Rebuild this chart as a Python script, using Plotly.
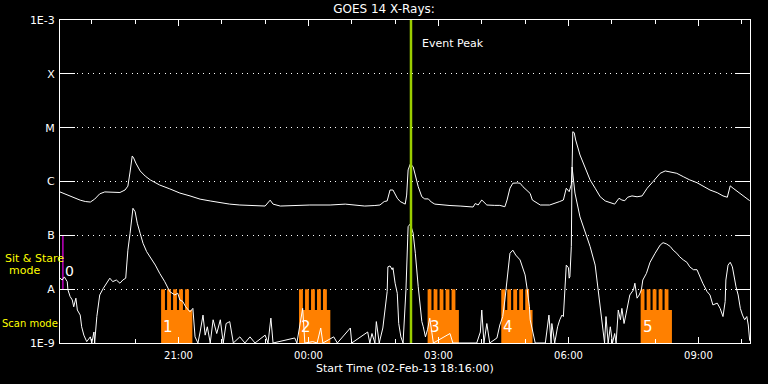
import math
import pandas as pd
import plotly.graph_objects as go

# ---------------- data ----------------
START = "2013-02-02 18:16:00"

# GOES long channel (1-8 A): minutes after start, flux (W/m^2)
long_min = [0, 14, 28, 35, 42, 48, 55, 62, 72, 83, 90, 94, 97, 100, 102, 105, 111, 118, 125, 138,
            152, 166, 180, 194, 208, 222, 235, 249, 270, 284, 291, 295, 305, 318, 332, 346, 360, 374,
            395, 408, 422, 436, 443, 449, 453, 457, 461, 467, 471, 478, 480, 482, 483, 485, 489, 492,
            496, 501, 505, 510, 514, 519, 533, 540, 554, 568, 572, 575, 579, 584, 591, 602, 609, 616,
            619, 623, 627, 633, 637, 641, 647, 651, 654, 665, 678, 685, 692, 697, 701, 705, 708, 709,
            710, 712, 714, 720, 727, 734, 741, 748, 755, 762, 768, 774, 778, 782, 786, 792, 799, 806,
            813, 821, 831, 838, 845, 854, 863, 872, 882, 890, 900, 910, 918, 924, 928, 932, 942, 948, 955]
long_flux = [6.4e-7, 5.3e-7, 4.5e-7, 4.25e-7, 4.15e-7, 4.7e-7, 5.9e-7, 6.4e-7, 6.4e-7, 6.25e-7,
             6.95e-7, 8.2e-7, 1.5e-6, 2.98e-6, 2.73e-6, 2.2e-6, 1.57e-6, 1.26e-6, 1.07e-6, 8.6e-7,
             7.3e-7, 6.1e-7, 5.4e-7, 4.7e-7, 4.35e-7, 4.0e-7, 3.8e-7, 3.66e-7, 3.58e-7, 3.5e-7,
             4.5e-7, 3.8e-7, 3.5e-7, 3.58e-7, 3.66e-7, 3.66e-7, 3.66e-7, 3.66e-7, 3.8e-7, 3.66e-7,
             3.5e-7, 3.58e-7, 3.66e-7, 4.25e-7, 4.35e-7, 6.95e-7, 6.95e-7, 4.9e-7, 4.25e-7, 3.8e-7,
             5.6e-7, 1.64e-6, 1.78e-6, 2.11e-6, 1.88e-6, 1.23e-6, 8.0e-7, 5.2e-7, 4.75e-7, 4.75e-7,
             4.16e-7, 3.8e-7, 3.58e-7, 3.58e-7, 3.5e-7, 3.36e-7, 3.36e-7, 3.9e-7, 3.66e-7, 4.53e-7,
             3.66e-7, 3.6e-7, 3.6e-7, 3.4e-7, 4.53e-7, 7.5e-7, 9.3e-7, 9.4e-7, 9.3e-7, 8.0e-7,
             6.7e-7, 6.0e-7, 4.53e-7, 3.66e-7, 3.66e-7, 3.9e-7, 4.25e-7, 4.53e-7, 7.5e-7, 6.47e-7,
             8.8e-7, 1.64e-6, 8.4e-6, 8.07e-6, 5.9e-6, 3.11e-6, 1.76e-6, 1.07e-6, 7.5e-7, 5.2e-7,
             4.35e-7, 4.04e-7, 3.8e-7, 4.88e-7, 4.53e-7, 4.4e-7, 5.1e-7, 5.4e-7, 5.2e-7, 5.4e-7,
             7.5e-7, 9.9e-7, 1.42e-6, 1.57e-6, 1.52e-6, 1.42e-6, 1.23e-6, 1.07e-6, 9.5e-7, 8.3e-7,
             6.95e-7, 6.2e-7, 5.4e-7, 5.1e-7, 8.3e-7, 7.5e-7, 6.0e-7, 5.1e-7, 4.4e-7]

# GOES short channel (0.5-4 A)
short_min = [0, 3, 6, 10, 11, 14, 17, 19, 22, 24, 28, 30, 33, 37, 42, 44, 47, 48, 51, 53, 55, 60, 64,
             69, 73, 78, 83, 87, 91, 94, 97, 101, 104, 107, 111, 115, 120, 125, 132, 138, 145, 152,
             159, 163, 166, 170, 174, 180, 184, 187, 191, 194, 198, 201, 204, 208, 212, 217, 222, 226,
             230, 235, 240, 249, 256, 263, 270, 284, 288, 292, 295, 325, 328, 336, 339, 350, 356, 361,
             364, 379, 384, 402, 404, 426, 429, 432, 436, 438, 442, 447, 450, 453, 454, 457, 460, 461,
             464, 467, 469, 472, 475, 479, 482, 485, 489, 492, 496, 501, 503, 506, 509, 512, 517, 540,
             544, 577, 582, 584, 587, 591, 595, 605, 609, 613, 616, 619, 622, 623, 627, 631, 637, 641,
             644, 647, 650, 651, 655, 658, 672, 677, 680, 681, 685, 689, 692, 695, 697, 699, 701, 704,
             705, 706, 708, 709, 713, 720, 727, 734, 741, 745, 748, 751, 754, 756, 759, 762, 765, 768,
             770, 773, 776, 778, 781, 784, 787, 789, 794, 796, 799, 802, 805, 807, 812, 814, 817, 824,
             831, 835, 840, 845, 849, 854, 858, 863, 868, 872, 877, 882, 886, 890, 896, 900, 904, 910,
             914, 918, 921, 922, 925, 928, 931, 934, 936, 939, 942, 945, 948, 951, 953, 955]
short_flux = [1.6e-8, 1.48e-8, 1.69e-8, 1.38e-8, 9.7e-9, 7.3e-9, 6.3e-9, 4.7e-9, 6.8e-9, 4.1e-9,
              3.3e-9, 2.0e-9, 1.4e-9, 1.06e-9, 1.3e-9, 1e-9, 1.6e-9, 1e-9, 3.1e-9, 4.7e-9, 7.8e-9,
              1.04e-8, 1.29e-8, 1.6e-8, 1.38e-8, 1.48e-8, 1.29e-8, 1.48e-8, 1.6e-8, 5.3e-8, 1.09e-7,
              3.18e-7, 2.75e-7, 1.68e-7, 1.09e-7, 7.1e-8, 4.97e-8, 4.0e-8, 2.8e-8, 1.97e-8, 1.38e-8,
              9.0e-9, 7.8e-9, 8.4e-9, 6.3e-9, 5.9e-9, 4.7e-9, 3.8e-9, 4.4e-9, 1.3e-9, 1e-9, 1.6e-9,
              3.3e-9, 1.4e-9, 2.0e-9, 1e-9, 2.7e-9, 1.5e-9, 2.7e-9, 1e-9, 2.3e-9, 2.5e-9, 1e-9,
              1.3e-9, 1e-9, 1.3e-9, 1e-9, 1.4e-9, 1e-9, 2.9e-9, 1e-9, 1.24e-9, 1e-9, 4.4e-9, 1e-9,
              1.06e-9, 1e-9, 1.9e-9, 1e-9, 1.3e-9, 1e-9, 1.9e-9, 1e-9, 1.6e-9, 1e-9, 1.5e-9, 1e-9,
              2.5e-9, 1e-9, 1.9e-9, 4.7e-9, 9.0e-9, 2.6e-8, 2.7e-8, 2.3e-8, 2.5e-8, 1.29e-8, 8.4e-9,
              2.3e-9, 1.3e-9, 1e-9, 9.7e-9, 1.45e-7, 1.63e-7, 1.09e-7, 4.65e-8, 1.11e-8, 2.5e-9,
              2.0e-9, 1.3e-9, 1.8e-9, 2.9e-9, 1e-9, 1.5e-9, 1e-9, 1e-9, 1.6e-9, 4.1e-9, 1e-9, 2.3e-9,
              1e-9, 1.24e-9, 2.16e-9, 3.1e-9, 6.3e-9, 1.48e-8, 3.16e-8, 4.65e-8, 5.3e-8, 4.3e-8,
              3.5e-8, 2.5e-8, 1.84e-8, 9.7e-9, 4.7e-9, 2.7e-9, 1.5e-9, 1e-9, 1e-9, 3.3e-9, 1e-9,
              2.3e-9, 1e-9, 2.0e-9, 2.7e-9, 3.3e-9, 3.1e-9, 1.11e-8, 2.8e-8, 2.5e-8, 1.6e-8, 1.7e-8,
              6.2e-8, 1.86e-6, 6.1e-7, 2.2e-7, 1.17e-7, 6.2e-8, 2.8e-8, 9.7e-9, 4.1e-9, 2.0e-9, 1e-9,
              3.1e-9, 1e-9, 2.0e-9, 1e-9, 1.5e-9, 1e-9, 4.1e-9, 2.7e-9, 4.4e-9, 2.3e-9, 3.6e-9,
              5.5e-9, 7.8e-9, 9.7e-9, 1.29e-8, 6.8e-9, 7.8e-9, 9.7e-9, 1.48e-8, 1.97e-8, 2.3e-8,
              3.16e-8, 4.65e-8, 6.6e-8, 7.3e-8, 6.9e-8, 6.2e-8, 5.3e-8, 4.65e-8, 4.0e-8, 3.5e-8,
              3.16e-8, 2.6e-8, 2.3e-8, 2.3e-8, 1.7e-8, 1.29e-8, 9.0e-9, 7.8e-9, 5.1e-9, 5.5e-9,
              4.4e-9, 3.1e-9, 5.9e-9, 1.48e-8, 2.8e-8, 3.16e-8, 2.6e-8, 1.48e-8, 1.11e-8, 7.8e-9,
              4.4e-9, 3.3e-9, 2.7e-9, 3.1e-9, 2.16e-9, 1.1e-9]

# Observations: scan rasters and sit-and-stare
scan_start_min = [140, 331, 509, 611, 804]
scan_labels = ["1", "2", "3", "4", "5"]
scan_steps = 5
scan_step_period_min = 8.3
scan_step_dwell_min = 5.3
scan_duration_min = 43.3
scan_level = 4.1e-9
raster_level = 1.0e-8
floor_level = 1.0e-9

sit_start_min = 4
sit_label = "0"
sit_range = [1.0e-8, 1.0e-7]

event_peak_min = 486
end_min = 955.4

y_tickvals = [1e-9, 1e-8, 1e-7, 1e-6, 1e-5, 1e-4, 1e-3]
y_ticktext = ["1E-9", "A", "B", "C", "M", "X", "1E-3"]

# ---------------- helpers ----------------
t0 = pd.Timestamp(START)


def T(m):
    return t0 + pd.to_timedelta(m, unit="m")


FONT = "DejaVu Sans"
fig = go.Figure()

# scan blocks (comb shapes)
for s in scan_start_min:
    xs = [T(s)]
    ys = [floor_level]
    xs += [T(s + scan_duration_min), T(s + scan_duration_min)]
    ys += [floor_level, scan_level]
    for k in reversed(range(scan_steps)):
        a = s + k * scan_step_period_min
        b = a + scan_step_dwell_min
        xs += [T(b), T(b), T(a), T(a)]
        ys += [scan_level, raster_level, raster_level, scan_level]
    xs += [T(s)]
    ys += [floor_level]
    fig.add_trace(go.Scatter(x=xs, y=ys, mode="lines", fill="toself",
                             fillcolor="#ff8000", line=dict(width=0, color="#ff8000"),
                             hoverinfo="skip"))

# sit & stare marker
fig.add_trace(go.Scatter(x=[T(sit_start_min), T(sit_start_min)], y=sit_range, mode="lines",
                         line=dict(color="#c000c0", width=1.5), hoverinfo="skip"))

# curves
fig.add_trace(go.Scatter(x=[T(m) for m in long_min], y=long_flux, mode="lines",
                         line=dict(color="white", width=1)))
fig.add_trace(go.Scatter(x=[T(m) for m in short_min], y=short_flux, mode="lines",
                         line=dict(color="white", width=1)))

# event peak line
fig.add_trace(go.Scatter(x=[T(event_peak_min), T(event_peak_min)], y=[1e-9, 1e-3], mode="lines",
                         line=dict(color="#9acd00", width=2.5), hoverinfo="skip"))

ann = []
for s, lab in zip(scan_start_min, scan_labels):
    ann.append(dict(x=T(s), y=math.log10(2.0e-9), xref="x", yref="y", text=lab, showarrow=False,
                    xanchor="left", yanchor="middle", xshift=0,
                    font=dict(family=FONT, size=15, color="white")))
ann.append(dict(x=T(sit_start_min), y=math.log10(2.2e-8), xref="x", yref="y", text=sit_label,
                showarrow=False, xanchor="left", yanchor="middle", xshift=0,
                font=dict(family=FONT, size=14, color="white")))
ann.append(dict(x=T(event_peak_min), y=1 - 23 / 323, xref="x", yref="paper", text="Event Peak",
                showarrow=False, xanchor="left", yanchor="middle", xshift=9,
                font=dict(family=FONT, size=11, color="white")))
ann.append(dict(x=(34 - 60) / 690, y=math.log10(3.7e-8), xref="paper", yref="y", text="Sit & Stare",
                showarrow=False, xanchor="center", yanchor="middle",
                font=dict(family=FONT, size=11, color="#ffff00")))
ann.append(dict(x=(24 - 60) / 690, y=math.log10(2.18e-8), xref="paper", yref="y", text="mode",
                showarrow=False, xanchor="center", yanchor="middle",
                font=dict(family=FONT, size=11, color="#ffff00")))
ann.append(dict(x=(30 - 60) / 690, y=math.log10(2.3e-9), xref="paper", yref="y", text="Scan mode",
                showarrow=False, xanchor="center", yanchor="middle",
                font=dict(family=FONT, size=10, color="#ffff00")))
ann.append(dict(x=0.5, y=0, xref="paper", yref="paper", text="Start Time (02-Feb-13 18:16:00)",
                showarrow=False, xanchor="center", yanchor="middle", yshift=-25,
                font=dict(family=FONT, size=11, color="white")))

fig.update_layout(
    width=768, height=384,
    margin=dict(l=60, r=18, t=20, b=41),
    paper_bgcolor="black", plot_bgcolor="black",
    showlegend=False,
    title=dict(text="GOES 14 X-Rays:", x=0.5, xref="container", y=1 - 9 / 384, yref="container",
               xanchor="center", yanchor="middle",
               font=dict(family=FONT, size=12, color="white")),
    annotations=ann,
    xaxis=dict(type="date", range=[T(0), T(end_min)], showgrid=False, zeroline=False,
               showline=True, linecolor="white", linewidth=1, mirror="allticks",
               ticks="inside", ticklen=6, tickcolor="white", tickwidth=1,
               tick0="2013-02-02 21:00:00", dtick=3 * 3600 * 1000, tickformat="%H:%M",
               ticklabelstandoff=3,
               minor=dict(ticks="inside", ticklen=4, tickcolor="white", dtick=3600 * 1000,
                          tick0="2013-02-02 19:00:00", showgrid=False),
               tickfont=dict(family=FONT, size=10, color="white")),
    yaxis=dict(type="log", range=[-9, -3], tickvals=y_tickvals, ticktext=y_ticktext,
               showline=True, linecolor="white", linewidth=1, mirror="allticks",
               ticks="inside", ticklen=15, tickcolor="white", tickwidth=1,
               showgrid=True, gridcolor="white", gridwidth=1, griddash="1px,4.5px",
               zeroline=False, ticklabelstandoff=2,
               tickfont=dict(family=FONT, size=11, color="white")),
)

fig.write_html("out.html")
